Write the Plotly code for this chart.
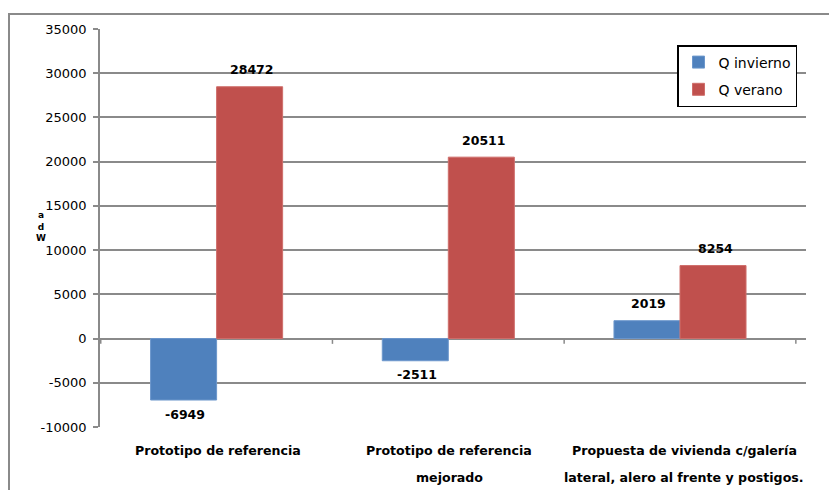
import plotly.graph_objects as go

categories = ["Prototipo de referencia",
              "Prototipo de referencia mejorado",
              "Propuesta de vivienda c/galería lateral, alero al frente y postigos."]
category_lines = [["Prototipo de referencia"],
                  ["Prototipo de referencia", "mejorado"],
                  ["Propuesta de vivienda c/galería", "lateral, alero al frente y postigos."]]
series_names = ["Q invierno", "Q verano"]
q_invierno = [-6949, -2511, 2019]
q_verano = [28472, 20511, 8254]
y_ticks = [-10000, -5000, 0, 5000, 10000, 15000, 20000, 25000, 30000, 35000]
y_tick_labels = ["-10000", "-5000", "0", "5000", "10000", "15000", "20000", "25000", "30000", "35000"]
y_title = "a<br>d<br>W"

FONT = "DejaVu Sans, Verdana, sans-serif"
GRID = "#8A8A8A"

# layout geometry (the page body adds an 8px margin, so the figure is 829x482)
W, H = 829, 482
ML, MR, MT, MB = 92, 31, 21, 63
PW, PH = W - ML - MR, H - MT - MB
BARGAP = 0.43

fig = go.Figure()
colors = ["#4F81BD", "#C0504D"]
edges = ["#6C97CC", "#CF6E6B"]
for name, vals, c, e in zip(series_names, [q_invierno, q_verano], colors, edges):
    fig.add_trace(go.Bar(name=name, x=categories, y=vals, legendgroup=name,
                         marker=dict(color=c, line=dict(color=e, width=1))))

fig.update_layout(
    width=W, height=H,
    margin=dict(l=ML, r=MR, t=MT, b=MB),
    paper_bgcolor="white", plot_bgcolor="white",
    barmode="group", bargap=BARGAP, bargroupgap=0,
    font=dict(family=FONT, size=12, color="black"),
    legend=dict(x=(677 - 100) / PW, y=(427 - 45) / PH, xanchor="left", yanchor="top",
                bordercolor="black", borderwidth=1.5, bgcolor="white",
                font=dict(family=FONT, size=14, color="black"),
                itemwidth=30, traceorder="grouped", tracegroupgap=6),
    showlegend=True,
)
fig.update_xaxes(showgrid=False, showline=False, ticks="", showticklabels=False)
fig.update_yaxes(range=[-10000, 35000], tickvals=y_ticks, ticktext=y_tick_labels,
                 showgrid=True, gridcolor=GRID, gridwidth=1.5,
                 zeroline=True, zerolinecolor=GRID, zerolinewidth=1.5,
                 showline=True, linecolor=GRID, linewidth=1.5,
                 ticks="outside", ticklen=5, tickcolor=GRID, tickwidth=1.5,
                 ticklabelstandoff=4,
                 tickfont=dict(family=FONT, size=13, color="black"))

# data labels, positioned by the axes (bar centre offset from the group layout)
bar_px = (PW / len(categories)) * (1 - BARGAP) / 2
for si, vals in enumerate([q_invierno, q_verano]):
    xs = (si - 0.5) * bar_px + 2
    for cat, v in zip(categories, vals):
        fig.add_annotation(x=cat, y=v, xref="x", yref="y", text=f"<b>{v}</b>",
                           showarrow=False, xshift=xs, yshift=17 if v >= 0 else -14,
                           yanchor="middle",
                           font=dict(family=FONT, size=12.5, color="black"))

# category labels below the plot
for ci, (cat, lines) in enumerate(zip(categories, category_lines)):
    for li, line in enumerate(lines):
        fig.add_annotation(x=cat, xref="x", yref="paper", y=-(23 + 27 * li) / PH,
                           text=f"<b>{line}</b>", showarrow=False, yanchor="middle",
                           xshift=4 if ci == len(categories) - 1 else 1,
                           font=dict(family=FONT, size=12.6, color="black"))

# category-axis tick marks at the zero line
for xb in [-0.5, 0.5, 1.5, 2.5]:
    fig.add_shape(type="line", xref="x", yref="y", x0=xb, x1=xb, y0=0, y1=-600,
                  line=dict(color=GRID, width=1.5))

# outer chart frame (left and top edges visible, rest beyond the page)
fig.add_shape(type="rect", xref="paper", yref="paper",
              x0=(1 - ML) / PW, x1=1 + 80 / PW,
              y0=-(MB + 40) / PH, y1=1 + 15 / PH,
              line=dict(color=GRID, width=2), fillcolor="rgba(0,0,0,0)", layer="above")

# y axis title (stacked letters)
fig.add_annotation(xref="paper", yref="paper", x=-59 / PW, xanchor="center",
                   y=(427 - 226) / PH, yanchor="middle",
                   text=f"<b>{y_title}</b>", showarrow=False,
                   font=dict(family=FONT, size=9, color="black"))

fig.write_html("out.html")
